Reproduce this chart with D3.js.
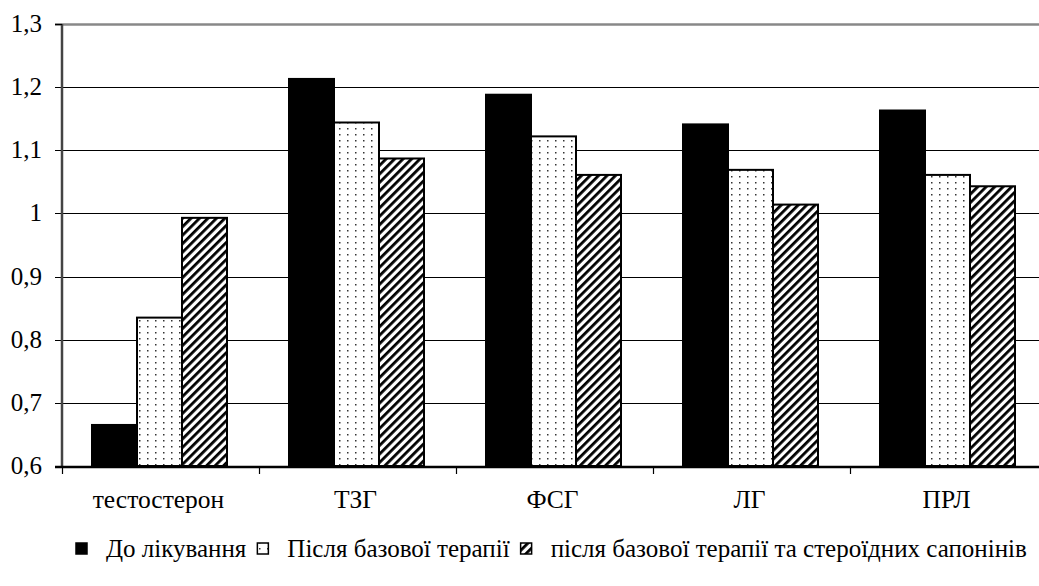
<!DOCTYPE html>
<html>
<head>
<meta charset="utf-8">
<script src="https://cdn.jsdelivr.net/npm/d3@7"></script>
<style>
  body { margin: 0; background: #fff; }
</style>
</head>
<body>
<div id="chart"></div>
<script>
// data
const categories = ["тестостерон", "ТЗГ", "ФСГ", "ЛГ", "ПРЛ"];
const seriesNames = ["До лікування", "Після базової терапії", "після базової терапії та стероїдних сапонінів"];
const beforeValues = [0.665, 1.213, 1.188, 1.141, 1.163];
const baseValues = [0.835, 1.144, 1.122, 1.069, 1.061];
const saponinValues = [0.993, 1.087, 1.061, 1.014, 1.043];
const yTicks = [0.6, 0.7, 0.8, 0.9, 1.0, 1.1, 1.2, 1.3];

const FRAME_WIDTH = 1039;
const FRAME_HEIGHT = 586;
const MARGINS = {left: 62, top: 24, bottom: 120};
const PLOT_RIGHT = 1047;  // plot runs a little past the right edge
const FONT = "'Liberation Serif', serif";
const FONT_SIZE = "25px";

const series = [beforeValues, baseValues, saponinValues];
const fills = ["#000", "url(#dots)", "url(#hatch)"];

const svg = d3.select("#chart")
              .append("svg")
                .attr("width", FRAME_WIDTH)
                .attr("height", FRAME_HEIGHT);

// patterns
const defs = svg.append("defs");
const dots = defs.append("pattern")
                 .attr("id", "dots")
                 .attr("patternUnits", "userSpaceOnUse")
                 .attr("width", 8).attr("height", 6);
dots.append("rect").attr("width", 8).attr("height", 6).attr("fill", "#fff");
dots.append("rect").attr("x", 3).attr("y", 2).attr("width", 1.5).attr("height", 1.5).attr("fill", "#333");

const hatch = defs.append("pattern")
                  .attr("id", "hatch")
                  .attr("patternUnits", "userSpaceOnUse")
                  .attr("width", 6).attr("height", 10)
                  .attr("patternTransform", "rotate(45)");
hatch.append("rect").attr("width", 6).attr("height", 10).attr("fill", "#fff");
hatch.append("rect").attr("width", 2.8).attr("height", 10).attr("fill", "#000");

// scales
const yScale = d3.scaleLinear()
                 .domain([0.6, 1.3])
                 .range([466, MARGINS.top]);

const xScale = d3.scaleBand()
                 .domain(categories)
                 .range([MARGINS.left, PLOT_RIGHT])
                 .padding(0);

const innerScale = d3.scaleBand()
                     .domain(d3.range(series.length))
                     .range([30, xScale.bandwidth() - 32]);

// gridlines
svg.append("g")
   .selectAll("line")
   .data(yTicks.slice(1))
   .enter()
   .append("line")
     .attr("x1", MARGINS.left - 7)
     .attr("x2", PLOT_RIGHT)
     .attr("y1", (d) => Math.round(yScale(d)) + 0.5)
     .attr("y2", (d) => Math.round(yScale(d)) + 0.5)
     .attr("stroke", (d) => d === 1.3 ? "#888" : "#000")
     .attr("stroke-width", (d) => d === 1.3 ? 2.5 : 1.2);

// y tick labels
svg.append("g")
   .selectAll("text")
   .data(yTicks)
   .enter()
   .append("text")
     .attr("x", 42)
     .attr("y", (d) => yScale(d) + 8)
     .attr("text-anchor", "end")
     .style("font-family", FONT)
     .style("font-size", FONT_SIZE)
     .text((d) => d3.format(".1f")(d).replace(".0", "").replace(".", ","));

// bars
categories.forEach((cat, i) => {
  series.forEach((vals, s) => {
    svg.append("rect")
       .attr("x", xScale(cat) + innerScale(s))
       .attr("y", yScale(vals[i]))
       .attr("width", innerScale.bandwidth())
       .attr("height", yScale(0.6) - yScale(vals[i]))
       .attr("fill", fills[s])
       .attr("stroke", "#000")
       .attr("stroke-width", 2);
  });
});

// y axis line
svg.append("line")
   .attr("x1", MARGINS.left).attr("x2", MARGINS.left)
   .attr("y1", MARGINS.top).attr("y2", 466)
   .attr("stroke", "#444")
   .attr("stroke-width", 2.5);
svg.append("line")
   .attr("x1", MARGINS.left - 7).attr("x2", MARGINS.left)
   .attr("y1", MARGINS.top + 0.5).attr("y2", MARGINS.top + 0.5)
   .attr("stroke", "#000").attr("stroke-width", 1.2);

// x axis
const xAxis = svg.append("g");
xAxis.append("line")
     .attr("x1", MARGINS.left - 7).attr("x2", PLOT_RIGHT)
     .attr("y1", 467).attr("y2", 467)
     .attr("stroke", "#000")
     .attr("stroke-width", 2.5);
xAxis.selectAll(".tick")
     .data(categories)
     .enter()
     .append("line")
       .attr("x1", (d) => xScale(d) + 0.5)
       .attr("x2", (d) => xScale(d) + 0.5)
       .attr("y1", 467).attr("y2", 474)
       .attr("stroke", "#000")
       .attr("stroke-width", 1.2);
xAxis.selectAll(".lab")
     .data(categories)
     .enter()
     .append("text")
       .attr("x", (d) => xScale(d) + xScale.bandwidth() / 2 - 2)
       .attr("y", 508)
       .attr("text-anchor", "middle")
       .style("font-family", FONT)
       .style("font-size", "25.5px")
       .text((d) => d);

// legend
const legend = svg.append("g");
let lx = 76;
const ly = 557;
seriesNames.forEach((name, s) => {
  legend.append("rect")
        .attr("x", lx)
        .attr("y", ly - 14)
        .attr("width", 11).attr("height", 11)
        .attr("fill", fills[s])
        .attr("stroke", "#000")
        .attr("stroke-width", 1.5);
  const t = legend.append("text")
                  .attr("x", lx + 30)
                  .attr("y", ly)
                  .style("font-family", FONT)
                  .style("font-size", FONT_SIZE)
                  .text(name);
  lx += 30 + t.node().getComputedTextLength() + 11;
});
</script>
</body>
</html>
